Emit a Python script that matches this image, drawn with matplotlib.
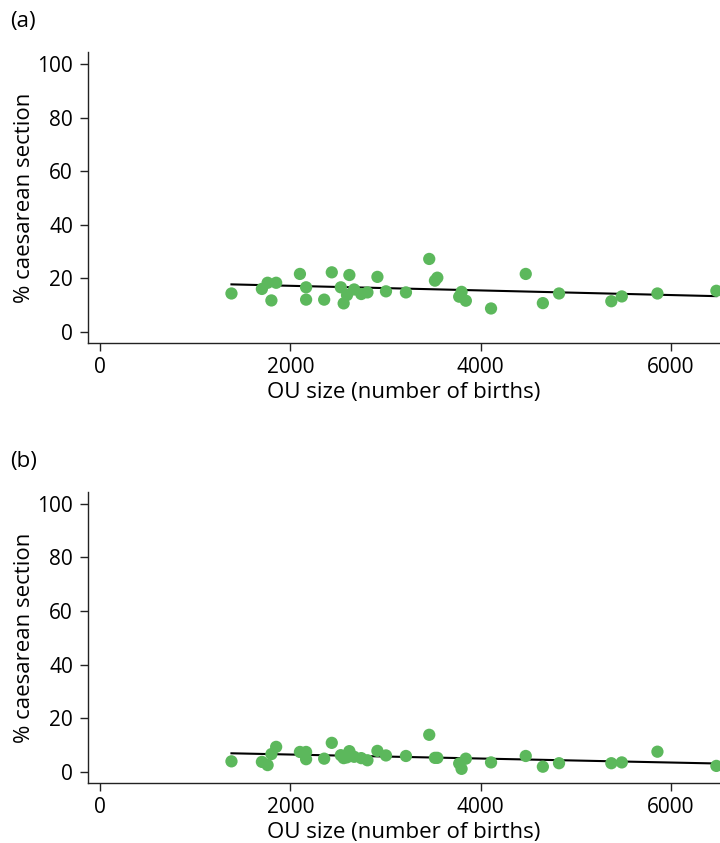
import matplotlib
matplotlib.use('Agg')
import matplotlib.pyplot as plt
import numpy as np

plt.rcParams['font.family'] = ['Open Sans', 'DejaVu Sans']

# OU size (number of births), same units in both panels
ou_size = [1380, 1700, 1760, 1850, 1800, 2100, 2165, 2165, 2355, 2435,
           2530, 2620, 2560, 2595, 2670, 2745, 2810, 2915, 3005, 3215,
           3460, 3520, 3545, 3800, 3775, 3845, 4110, 4475, 4655, 4825,
           5375, 5485, 5860, 6480]

# panel (a) % caesarean section
cs_a = [14.3, 16.0, 18.3, 18.3, 11.7, 21.6, 16.6, 12.0, 12.0, 22.2,
        16.6, 21.2, 10.6, 13.7, 15.8, 14.1, 14.7, 20.5, 15.1, 14.7,
        27.2, 19.1, 20.2, 14.9, 13.1, 11.6, 8.7, 21.6, 10.7, 14.3,
        11.4, 13.2, 14.3, 15.3]

# panel (b) % caesarean section
cs_b = [3.9, 3.7, 2.5, 9.3, 6.6, 7.4, 7.4, 4.7, 4.9, 10.8,
        6.2, 7.7, 5.1, 5.4, 5.6, 5.1, 4.3, 7.8, 6.1, 5.9,
        13.8, 5.2, 5.2, 1.1, 3.1, 4.9, 3.5, 5.9, 1.9, 3.2,
        3.2, 3.5, 7.5, 2.2]

# fitted line values at the smallest and largest OU
fit_a = [17.7, 13.3]
fit_b = [6.9, 3.1]

panels = [('(a)', cs_a, fit_a), ('(b)', cs_b, fit_b)]

fig = plt.figure(figsize=(7.2, 8.43), dpi=100)

# axes boxes in figure fractions: left, bottom, width, height
boxes = [[0.1226, 0.5928, 0.8774, 0.3455],
         [0.1226, 0.0708, 0.8774, 0.3459]]
tag_y = [0.974, 0.452]

green = '#5cb85c'

for (tag, vals, fit), box, ty in zip(panels, boxes, tag_y):
    ax = fig.add_axes(box)
    ax.scatter(ou_size, vals, s=78, color=green, edgecolors='none',
               zorder=3, clip_on=False)
    xs = [min(ou_size), max(ou_size)]
    ax.plot(xs, fit, color='black', linewidth=1.5, zorder=2)

    ax.set_xlim(-126, 6518)
    ax.set_ylim(-4.3, 104.5)
    ax.set_xticks([0, 2000, 4000, 6000])
    ax.set_yticks([0, 20, 40, 60, 80, 100])
    ax.tick_params(axis='both', labelsize=15, length=6, width=1.0,
                   direction='out', color='#222222')
    ax.tick_params(axis='y', pad=5)
    ax.tick_params(axis='x', pad=4)

    for side in ['top', 'right']:
        ax.spines[side].set_visible(False)
    for side in ['left', 'bottom']:
        ax.spines[side].set_linewidth(1.0)
        ax.spines[side].set_color('#222222')

    ax.set_xlabel('OU size (number of births)', fontsize=16, labelpad=3)
    ax.set_ylabel('% caesarean section', fontsize=16)
    ax.yaxis.set_label_coords(-0.085, 0.5)

    fig.text(0.014, ty, tag, fontsize=16, ha='left', va='center')

plt.savefig('out.png', dpi=100)
